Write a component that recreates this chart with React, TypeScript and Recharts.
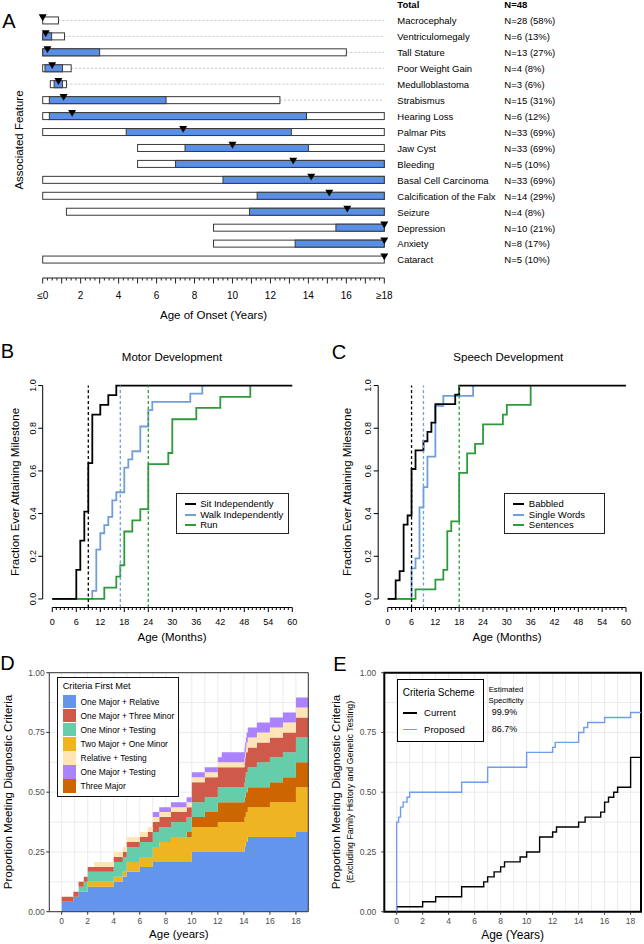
import React from "react";
import {
  Area,
  AreaChart,
  Bar,
  BarChart,
  CartesianGrid,
  Line,
  LineChart,
  ReferenceArea,
  ReferenceLine,
  XAxis,
  YAxis,
} from "recharts";

const FONT = '"Liberation Sans", Arial, Helvetica, sans-serif';
const COHORT = 48;

// ---------- A: age of onset by feature (years) ----------
const features = [
  "Macrocephaly",
  "Ventriculomegaly",
  "Tall Stature",
  "Poor Weight Gain",
  "Medulloblastoma",
  "Strabismus",
  "Hearing Loss",
  "Palmar Pits",
  "Jaw Cyst",
  "Bleeding",
  "Basal Cell Carcinoma",
  "Calcification of the Falx",
  "Seizure",
  "Depression",
  "Anxiety",
  "Cataract",
];
const featureCounts = [
  "N=28 (58%)",
  "N=6 (13%)",
  "N=13 (27%)",
  "N=4 (8%)",
  "N=3 (6%)",
  "N=15 (31%)",
  "N=6 (12%)",
  "N=33 (69%)",
  "N=33 (69%)",
  "N=5 (10%)",
  "N=33 (69%)",
  "N=14 (29%)",
  "N=4 (8%)",
  "N=10 (21%)",
  "N=8 (17%)",
  "N=5 (10%)",
];
const onsetMin = [0, 0, 0, 0, 0.4, 0, 0, 0, 5, 5, 0, 0, 1.25, 9, 9, 0];
const onsetQ1 = [0, 0, 0, 0.12, 0.6, 0.35, 0.35, 4.4, 7.5, 7, 9.5, 11.3, 10.9, 15.45, 13.3, 18];
const onsetMedian = [0, 0.16, 0.25, 0.5, 0.83, 1.1, 1.55, 7.4, 10, 13.2, 14.15, 15.1, 16.05, 18, 18, 18];
const onsetQ3 = [0, 0.47, 3, 1.04, 1.04, 6.5, 13.9, 13.1, 14, 18, 18, 18, 18, 18, 18, 18];
const onsetMax = [0.83, 1.15, 16, 1.5, 1.25, 12.5, 18, 18, 18, 18, 18, 18, 18, 18, 18, 18];
const AGE_MAX = 18;
const onsetTicks = Array.from({ length: 73 }, (_, i) => i / 4);

// ---------- B: motor milestones (months, cumulative fraction) ----------
const sitMonths = [0, 6, 7, 8, 9, 10, 12, 14, 16, 60];
const sitFraction = [0, 0.136, 0.273, 0.409, 0.636, 0.864, 0.909, 0.955, 1, 1];
const walkMonths = [0, 10, 11, 12, 13, 14, 15, 16, 18, 19, 20, 22, 24, 25, 34.5, 37.5];
const walkFraction = [0, 0.038, 0.231, 0.308, 0.346, 0.385, 0.462, 0.5, 0.615, 0.654, 0.692, 0.808, 0.885, 0.923, 0.962, 1];
const runMonths = [0, 13, 16, 17, 18, 20, 22, 24, 29, 30, 36, 42, 49.5];
const runFraction = [0, 0.053, 0.105, 0.158, 0.316, 0.368, 0.421, 0.632, 0.684, 0.842, 0.895, 0.947, 1];
const motorMedians = [9, 17, 24];

// ---------- C: speech milestones ----------
const babbleMonths = [0, 2, 3, 4, 5, 6, 7, 9, 10, 11, 12, 17, 18, 60];
const babbleFraction = [0, 0.087, 0.13, 0.348, 0.391, 0.609, 0.696, 0.739, 0.783, 0.826, 0.913, 0.957, 1, 1];
const wordsMonths = [0, 6, 7, 8, 9, 10, 12, 14, 21.5];
const wordsFraction = [0, 0.143, 0.19, 0.429, 0.524, 0.667, 0.905, 0.952, 1];
const sentenceMonths = [0, 7, 12, 14, 15, 16, 18, 20, 22, 24, 29, 30, 36];
const sentenceFraction = [0, 0.045, 0.091, 0.136, 0.318, 0.364, 0.591, 0.682, 0.727, 0.818, 0.864, 0.909, 1];
const speechMedians = [6, 9, 18];

const monthTicks = Array.from({ length: 61 }, (_, i) => i);
const fractionTicks = [0, 0.2, 0.4, 0.6, 0.8, 1];

// ---------- D: criteria first met (patients, cumulative) ----------
const criteriaYears = [0, 0.9, 1.3, 1.7, 2, 2.5, 4, 4.7, 5, 6, 6.6, 7, 7.5, 8.4, 9.6, 10, 11, 12, 12.3, 14.05, 14.1, 14.15, 14.2, 14.3, 15, 16, 17, 18, 18.95];
const majorRelative = [2, 3, 4, 4, 5, 5, 6, 7, 8, 9, 9, 10, 10, 10, 10, 12, 12, 12, 12, 13, 13, 14, 14, 15, 15, 15, 15, 16, 16];
const twoMajorMinor = [0, 0, 0, 0, 1, 1, 1, 1, 2, 2, 2, 3, 4, 5, 5, 5, 5, 6, 6, 6, 6, 6, 6, 6, 6, 7, 7, 9, 9];
const threeMajor = [0, 0, 0, 0, 0, 0, 0, 0, 0, 0, 0, 0, 0, 0, 1, 2, 3, 4, 4, 4, 4, 4, 4, 4, 4, 4, 5, 5, 5];
const minorTesting = [0, 0, 1, 2, 2, 2, 3, 3, 3, 3, 3, 3, 3, 3, 3, 3, 3, 3, 3, 3, 4, 4, 4, 4, 5, 5, 5, 5, 5];
const majorThreeMinor = [1, 1, 1, 1, 1, 1, 1, 1, 1, 1, 2, 2, 2, 2, 2, 4, 4, 4, 4, 4, 4, 4, 4, 4, 4, 4, 4, 4, 4];
const relativeTesting = [0, 0, 0, 0, 0, 1, 1, 1, 1, 1, 1, 1, 1, 1, 1, 1, 1, 1, 1, 1, 1, 1, 2, 2, 2, 2, 2, 2, 2];
const majorTesting = [0, 0, 0, 0, 0, 0, 0, 0, 0, 0, 0, 1, 1, 1, 1, 1, 1, 1, 2, 2, 2, 2, 2, 2, 2, 2, 2, 2, 2];

// ---------- E: current vs proposed scheme ----------
const currentYears = [0, 0, 2, 3, 5, 6.7, 7, 7.5, 8, 8.3, 9.5, 10, 11, 12, 12.3, 14, 14.5, 15.7, 16, 16.3, 16.7, 17, 18, 18.8];
const currentCount = [0, 1, 2, 3, 5, 6, 7, 8, 9, 10, 11, 12, 15, 16, 17, 18, 19, 20, 22, 23, 24, 25, 31, 31];
const proposedYears = [0, 0, 0.15, 0.3, 0.5, 0.8, 1, 5, 7, 10, 12, 12.2, 14, 14.4, 14.7, 16, 18, 18.8];
const proposedCount = [0, 18, 19, 21, 22, 23, 24, 26, 29, 32, 33, 34, 36, 37, 38, 39, 40, 40];

const yearTicks = Array.from({ length: 19 }, (_, i) => i);
const proportionTicks = [0, 0.125, 0.25, 0.375, 0.5, 0.625, 0.75, 0.875, 1];

const BLUE_A = "#5A8FE6";
const BLACK = "#000000";
const LIGHT_BLUE = "#6F9FD8";
const GREEN = "#2E9A3A";

const criteriaSeries = [
  { key: "majorRelative", values: majorRelative, color: "#6495ED" },
  { key: "twoMajorMinor", values: twoMajorMinor, color: "#EEB422" },
  { key: "threeMajor", values: threeMajor, color: "#CD6600" },
  { key: "minorTesting", values: minorTesting, color: "#66CDAA" },
  { key: "majorThreeMinor", values: majorThreeMinor, color: "#CF5A49" },
  { key: "relativeTesting", values: relativeTesting, color: "#FFE4B5" },
  { key: "majorTesting", values: majorTesting, color: "#AB82FF" },
];
const criteriaLegend = [
  ["One Major + Relative", "#6495ED"],
  ["One Major + Three Minor", "#CF5A49"],
  ["One Minor + Testing", "#66CDAA"],
  ["Two Major + One Minor", "#EEB422"],
  ["Relative + Testing", "#FFE4B5"],
  ["One Major + Testing", "#AB82FF"],
  ["Three Major", "#CD6600"],
];

const onsetRows = [
  { name: "Total", count: "N=48" },
  ...features.map((name, i) => ({
    name,
    count: featureCounts[i],
    min: onsetMin[i],
    q1: onsetQ1[i],
    median: onsetMedian[i],
    q3: onsetQ3[i],
    max: onsetMax[i],
    range: [onsetMin[i], onsetMax[i]],
  })),
];

const toPoints = (xs: number[], ys: number[], scale = 1) =>
  xs.map((x, i) => ({ x, y: ys[i] / scale }));

const criteriaRows = criteriaYears.map((year, i) => {
  const row: any = { year };
  criteriaSeries.forEach((s) => (row[s.key] = s.values[i] / COHORT));
  return row;
});

function Txt({ x, y, size = 11.5, rotate = 0, weight = 400, color = "#000", children }: any) {
  return (
    <div
      style={{
        position: "absolute",
        left: x,
        top: y,
        transform: `translate(-50%, -50%) rotate(${rotate}deg)`,
        fontSize: size,
        fontWeight: weight,
        color,
        whiteSpace: "nowrap",
        fontFamily: FONT,
        lineHeight: 1,
      }}
    >
      {children}
    </div>
  );
}

// box = min..max, blue = q1..q3, triangle = median
function OnsetBox(props: any) {
  const { x, y, width, height, payload } = props;
  if (!payload || payload.max == null || !width) return <g />;
  const k = width / (payload.max - payload.min);
  const px = (v: number) => x + (v - payload.min) * k;
  const cy = y + height / 2;
  const m = px(payload.median);
  return (
    <g>
      {payload.max < AGE_MAX && (
        <line x1={x + width} x2={px(AGE_MAX)} y1={cy} y2={cy} stroke="#c4c4c4" strokeDasharray="2 2" />
      )}
      <rect x={x} y={y} width={width} height={height} fill="#fff" stroke="#3a3a3a" strokeWidth={1} />
      {payload.q3 > payload.q1 && (
        <rect x={px(payload.q1)} y={y} width={px(payload.q3) - px(payload.q1)} height={height} fill={BLUE_A} stroke="#3a3a3a" strokeWidth={1} />
      )}
      <polygon points={`${m - 4},${y - 2.6} ${m + 4},${y - 2.6} ${m},${y + 4.2}`} fill="#000" />
    </g>
  );
}

function FeatureTick(props: any) {
  const { x, y, payload, index } = props;
  const row = onsetRows[index];
  const bold = index === 0 ? 700 : 400;
  return (
    <g fontFamily={FONT} fontSize={9.5} fill="#000">
      <text x={x + 13} y={y + 3.4} fontWeight={bold}>{payload.value}</text>
      <text x={x + 120} y={y + 3.4} fontWeight={bold}>{row ? row.count : ""}</text>
    </g>
  );
}

function OnsetTick(props: any) {
  const { x, y, payload } = props;
  const v = payload.value;
  const major = Number.isInteger(v);
  const labeled = major && v % 2 === 0;
  const label = v === 0 ? "≤0" : v === AGE_MAX ? "≥18" : String(v);
  return (
    <g>
      <line x1={x} x2={x} y1={y + 10} y2={y + (major ? 15.5 : 12.5)} stroke="#222" />
      {labeled && (
        <text x={x} y={y + 30.8} textAnchor="middle" fontSize={10} fontFamily={FONT} fill="#000">
          {label}
        </text>
      )}
    </g>
  );
}

function MonthTick(props: any) {
  const { x, y, payload } = props;
  const v = payload.value;
  const major = v % 6 === 0;
  return (
    <g>
      <line x1={x} x2={x} y1={y} y2={y + (major ? 4.5 : 2.5)} stroke="#000" />
      {major && (
        <text x={x} y={y + 17.8} textAnchor="middle" fontSize={9} fontFamily={FONT} fill="#000">
          {v}
        </text>
      )}
    </g>
  );
}

function FractionTick(props: any) {
  const { x, y, payload } = props;
  return (
    <g>
      <line x1={x - 4.5} x2={x} y1={y} y2={y} stroke="#000" />
      <text
        transform={`translate(${x - 10},${y}) rotate(-90)`}
        textAnchor="middle"
        dy="0.35em"
        fontSize={9}
        fontFamily={FONT}
        fill="#000"
      >
        {payload.value.toFixed(1)}
      </text>
    </g>
  );
}

function YearTick(props: any) {
  const { x, y, payload } = props;
  const v = payload.value;
  if (v % 2 !== 0) return <g />;
  return (
    <g>
      <line x1={x} x2={x} y1={y} y2={y + 3} stroke="#333" />
      <text x={x} y={y + 12.2} textAnchor="middle" fontSize={8.5} fontFamily={FONT} fill="#4D4D4D">
        {v}
      </text>
    </g>
  );
}

const makeProportionTick = (gap: number) =>
  function ProportionTick(props: any) {
    const { x, y, payload } = props;
    const v = payload.value;
    if (v % 0.25 !== 0) return <g />;
    return (
      <g>
        <line x1={x - 3} x2={x} y1={y} y2={y} stroke="#333" />
        <text x={x - gap} y={y + 3} textAnchor="end" fontSize={8.5} fontFamily={FONT} fill="#4D4D4D">
          {v.toFixed(2)}
        </text>
      </g>
    );
  };
const ProportionTickD = makeProportionTick(4.5);
const ProportionTickE = makeProportionTick(8);

function LineLegend({ left, top, width, items }: any) {
  return (
    <div
      style={{
        position: "absolute",
        left,
        top,
        width,
        height: 41,
        border: "1px solid #222",
        boxSizing: "border-box",
        background: "#fff",
        fontFamily: FONT,
        fontSize: 9.5,
      }}
    >
      {items.map(([label, color]: any, i: number) => (
        <div key={label} style={{ position: "absolute", left: 8, top: 5 + i * 10.6, height: 10, display: "flex", alignItems: "center", whiteSpace: "nowrap" }}>
          <div style={{ width: 11, height: 2, background: color }} />
          <span style={{ marginLeft: 4.5, lineHeight: "10px" }}>{label}</span>
        </div>
      ))}
    </div>
  );
}

function MilestoneChart({ left, series, medians, yAxisWidth, rightMargin }: any) {
  return (
    <div style={{ position: "absolute", left, top: 370 }}>
      <LineChart width={left === 0 ? 320 : 324} height={270} margin={{ top: 7, right: rightMargin, bottom: 0, left: 0 }}>
        <XAxis
          type="number"
          dataKey="x"
          domain={[-2.4, 62.4]}
          ticks={monthTicks}
          interval={0}
          tickSize={0}
          tickMargin={0}
          axisLine={false}
          height={32.5}
          tick={MonthTick}
          allowDataOverflow
        />
        <YAxis
          type="number"
          dataKey="y"
          domain={[-0.04, 1.04]}
          ticks={fractionTicks}
          interval={0}
          tickSize={0}
          tickMargin={0}
          axisLine={false}
          width={yAxisWidth}
          tick={FractionTick}
          allowDataOverflow
        />
        <ReferenceLine segment={[{ x: 0, y: -0.04 }, { x: 60, y: -0.04 }]} stroke="#000" ifOverflow="visible" />
        <ReferenceLine segment={[{ x: -2.4, y: 0 }, { x: -2.4, y: 1 }]} stroke="#000" ifOverflow="visible" />
        {series.map((s: any) => (
          <Line
            key={s.name}
            data={s.points}
            dataKey="y"
            type="stepAfter"
            stroke={s.color}
            strokeWidth={1.8}
            dot={false}
            isAnimationActive={false}
          />
        ))}
        {medians.map((m: number, i: number) => (
          <ReferenceLine
            key={i}
            segment={[{ x: m, y: -0.04 }, { x: m, y: 1 }]}
            stroke={series[i].color}
            strokeDasharray="3 2.5"
            strokeWidth={1.3}
            ifOverflow="visible"
          />
        ))}
      </LineChart>
    </div>
  );
}

export default function App() {
  const motorSeries = [
    { name: "Walk Independently", color: LIGHT_BLUE, points: toPoints(walkMonths, walkFraction) },
    { name: "Run", color: GREEN, points: toPoints(runMonths, runFraction) },
    { name: "Sit Independently", color: BLACK, points: toPoints(sitMonths, sitFraction) },
  ];
  const motorMedianOrder = [motorMedians[1], motorMedians[2], motorMedians[0]];
  const speechSeries = [
    { name: "Single Words", color: LIGHT_BLUE, points: toPoints(wordsMonths, wordsFraction) },
    { name: "Sentences", color: GREEN, points: toPoints(sentenceMonths, sentenceFraction) },
    { name: "Babbled", color: BLACK, points: toPoints(babbleMonths, babbleFraction) },
  ];
  const speechMedianOrder = [speechMedians[1], speechMedians[2], speechMedians[0]];

  return (
    <div
      style={{
        position: "absolute",
        left: 0,
        top: 0,
        width: 644,
        height: 944,
        background: "#fff",
        fontFamily: FONT,
      }}
    >
      {/* ---------- A ---------- */}
      <div style={{ position: "absolute", left: 0, top: -3 }}>
        <BarChart
          layout="vertical"
          width={644}
          height={326}
          data={onsetRows}
          margin={{ top: 0, right: 0, bottom: 0, left: 42.7 }}
        >
          <XAxis
            type="number"
            domain={[0, AGE_MAX]}
            ticks={onsetTicks}
            interval={0}
            tickSize={0}
            tickMargin={0}
            height={55}
            axisLine={{ stroke: "#222", transform: "translate(0, 10)" }}
            tick={OnsetTick}
          />
          <YAxis
            type="category"
            dataKey="name"
            orientation="right"
            width={259.7}
            tickSize={0}
            tickMargin={0}
            axisLine={false}
            interval={0}
            tick={FeatureTick}
          />
          <Bar dataKey="range" barSize={7} shape={OnsetBox} isAnimationActive={false} />
        </BarChart>
      </div>
      <Txt x={9} y={21} size={20}>A</Txt>
      <Txt x={20} y={140} rotate={-90}>Associated Feature</Txt>
      <Txt x={213.5} y={316}>Age of Onset (Years)</Txt>

      {/* ---------- B ---------- */}
      <MilestoneChart left={0} series={motorSeries} medians={motorMedianOrder} yAxisWidth={42.7} rightMargin={18.1} />
      <Txt x={7.5} y={351} size={20}>B</Txt>
      <Txt x={172} y={358}>Motor Development</Txt>
      <Txt x={16} y={492} rotate={-90}>Fraction Ever Attaining Milestone</Txt>
      <Txt x={172} y={638}>Age (Months)</Txt>
      <LineLegend
        left={175.7}
        top={493.3}
        width={113.6}
        items={[
          ["Sit Independently", BLACK],
          ["Walk Independently", LIGHT_BLUE],
          ["Run", GREEN],
        ]}
      />

      {/* ---------- C ---------- */}
      <MilestoneChart left={320} series={speechSeries} medians={speechMedianOrder} yAxisWidth={58.2} rightMargin={8.5} />
      <Txt x={339} y={351.5} size={20}>C</Txt>
      <Txt x={508.3} y={358}>Speech Development</Txt>
      <Txt x={348.3} y={492} rotate={-90}>Fraction Ever Attaining Milestone</Txt>
      <Txt x={507} y={638}>Age (Months)</Txt>
      <LineLegend
        left={504.3}
        top={493}
        width={100.7}
        items={[
          ["Babbled", BLACK],
          ["Single Words", LIGHT_BLUE],
          ["Sentences", GREEN],
        ]}
      />

      {/* ---------- D ---------- */}
      <div style={{ position: "absolute", left: 0, top: 660 }}>
        <AreaChart width={330} height={284} data={criteriaRows} margin={{ top: 12.7, right: 21.7, bottom: 0, left: 0 }}>
          <CartesianGrid stroke="#EBEBEB" />
          <XAxis
            type="number"
            dataKey="year"
            domain={[-0.95, 18.95]}
            ticks={yearTicks}
            interval={0}
            tickSize={0}
            tickMargin={0}
            axisLine={false}
            height={32.3}
            tick={YearTick}
            allowDataOverflow
          />
          <YAxis
            type="number"
            domain={[0, 1]}
            ticks={proportionTicks}
            interval={0}
            tickSize={0}
            tickMargin={0}
            axisLine={false}
            width={49.3}
            tick={ProportionTickD}
            allowDataOverflow
          />
          {criteriaSeries.map((s) => (
            <Area
              key={s.key}
              type="stepAfter"
              dataKey={s.key}
              stackId="criteria"
              stroke="none"
              fill={s.color}
              fillOpacity={1}
              isAnimationActive={false}
            />
          ))}
          <ReferenceArea x1={-0.95} x2={18.95} y1={0} y2={1} fill="none" stroke="#333" strokeWidth={1} ifOverflow="visible" />
        </AreaChart>
      </div>
      <Txt x={7.5} y={662.5} size={20}>D</Txt>
      <Txt x={9.3} y={792} rotate={-90}>Proportion Meeting Diagnostic Criteria</Txt>
      <Txt x={178.8} y={935}>Age (years)</Txt>
      <div
        style={{
          position: "absolute",
          left: 57.3,
          top: 676.7,
          width: 121.7,
          height: 120,
          border: "1.3px solid #111",
          boxSizing: "border-box",
          background: "#fff",
          fontFamily: FONT,
          fontSize: 8.4,
        }}
      >
        <div style={{ position: "absolute", left: 4.4, top: 3.5, fontSize: 9.2, lineHeight: "10px", whiteSpace: "nowrap" }}>Criteria First Met</div>
        {criteriaLegend.map(([label, color], i) => (
          <div key={label} style={{ position: "absolute", left: 4.4, top: 17.3 + i * 14.05, height: 13.4, display: "flex", alignItems: "center", whiteSpace: "nowrap" }}>
            <div style={{ width: 13.3, height: 13.4, background: color, flexShrink: 0 }} />
            <span style={{ marginLeft: 4.6, lineHeight: "10px" }}>{label}</span>
          </div>
        ))}
      </div>

      {/* ---------- E ---------- */}
      <div style={{ position: "absolute", left: 320, top: 660 }}>
        <LineChart width={324} height={284} margin={{ top: 12.7, right: 3, bottom: 0, left: 0 }}>
          <CartesianGrid stroke="#EBEBEB" />
          <XAxis
            type="number"
            dataKey="x"
            domain={[-0.95, 18.8]}
            ticks={yearTicks}
            interval={0}
            tickSize={0}
            tickMargin={0}
            axisLine={false}
            height={32.3}
            tick={YearTick}
            allowDataOverflow
          />
          <YAxis
            type="number"
            dataKey="y"
            domain={[0, 1]}
            ticks={proportionTicks}
            interval={0}
            tickSize={0}
            tickMargin={0}
            axisLine={false}
            width={64.3}
            tick={ProportionTickE}
            allowDataOverflow
          />
          <Line
            data={toPoints(currentYears, currentCount, COHORT)}
            dataKey="y"
            type="stepAfter"
            stroke="#000"
            strokeWidth={1.4}
            dot={false}
            isAnimationActive={false}
          />
          <Line
            data={toPoints(proposedYears, proposedCount, COHORT)}
            dataKey="y"
            type="stepAfter"
            stroke="#6E9EEB"
            strokeWidth={1.4}
            dot={false}
            isAnimationActive={false}
          />
          <ReferenceArea x1={-0.95} x2={18.8} y1={0} y2={1} fill="none" stroke="#000" strokeWidth={2} ifOverflow="visible" />
        </LineChart>
      </div>
      <Txt x={340} y={663.7} size={20}>E</Txt>
      <Txt x={336.7} y={792} rotate={-90}>Proportion Meeting Diagnostic Criteria</Txt>
      <Txt x={350} y={792} size={8.8} rotate={-90}>(Excluding Family History and Genetic Testing)</Txt>
      <Txt x={512.6} y={935} size={12}>Age (Years)</Txt>
      <div
        style={{
          position: "absolute",
          left: 397.3,
          top: 679.3,
          width: 87,
          height: 62.4,
          border: "1.5px solid #000",
          boxSizing: "border-box",
          background: "#fff",
          fontFamily: FONT,
        }}
      >
        <div style={{ position: "absolute", left: 4.5, top: 7, fontSize: 10, lineHeight: "11px", whiteSpace: "nowrap" }}>Criteria Scheme</div>
        {[
          ["Current", "#000"],
          ["Proposed", "#6E9EEB"],
        ].map(([label, color], i) => (
          <div key={label} style={{ position: "absolute", left: 4.5, top: 27.7 + i * 16.7, height: 10, display: "flex", alignItems: "center", whiteSpace: "nowrap" }}>
            <div style={{ width: 14, height: 1.4, background: color }} />
            <span style={{ marginLeft: 7.3, fontSize: 9.5, lineHeight: "10px" }}>{label}</span>
          </div>
        ))}
      </div>
      <Txt x={506} y={690} size={7.8}>Estimated</Txt>
      <Txt x={506} y={700.7} size={7.8}>Specificity</Txt>
      <Txt x={504.5} y={712} size={9}>99.9%</Txt>
      <Txt x={504.5} y={728.7} size={9}>86.7%</Txt>
    </div>
  );
}
